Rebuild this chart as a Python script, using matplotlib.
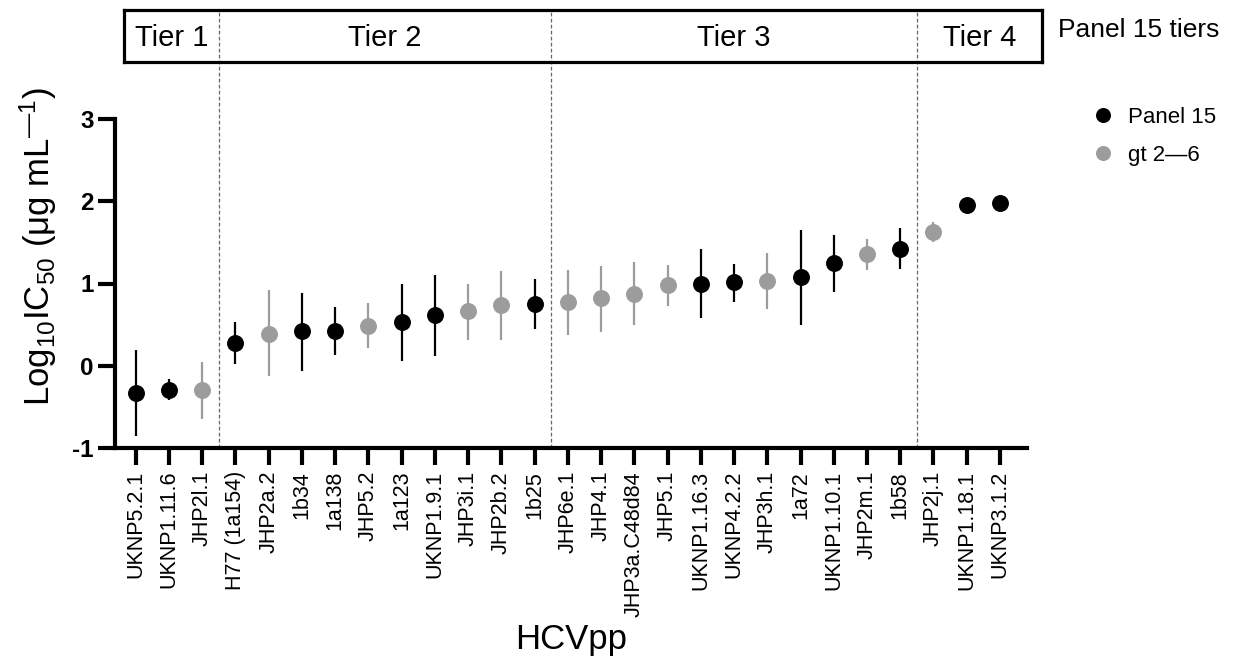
import matplotlib
matplotlib.use("Agg")
import matplotlib.pyplot as plt
from matplotlib.lines import Line2D

plt.rcParams['font.family'] = ['Liberation Sans', 'DejaVu Sans']
plt.rcParams['mathtext.fontset'] = 'custom'
plt.rcParams['mathtext.rm'] = 'Liberation Sans'
plt.rcParams['mathtext.it'] = 'Liberation Sans:italic'
plt.rcParams['mathtext.bf'] = 'Liberation Sans:bold'

# ---- data ----
categories = ['UKNP5.2.1', 'UKNP1.11.6', 'JHP2l.1', 'H77 (1a154)', 'JHP2a.2', '1b34',
              '1a138', 'JHP5.2', '1a123', 'UKNP1.9.1', 'JHP3i.1', 'JHP2b.2', '1b25',
              'JHP6e.1', 'JHP4.1', 'JHP3a.C48d84', 'JHP5.1', 'UKNP1.16.3', 'UKNP4.2.2',
              'JHP3h.1', '1a72', 'UKNP1.10.1', 'JHP2m.1', '1b58', 'JHP2j.1',
              'UKNP1.18.1', 'UKNP3.1.2']
values = [-0.33, -0.29, -0.29, 0.275, 0.39, 0.42, 0.42, 0.485, 0.53, 0.615, 0.66, 0.735,
          0.755, 0.775, 0.82, 0.875, 0.98, 1.0, 1.015, 1.03, 1.08, 1.25, 1.355, 1.425,
          1.63, 1.95, 1.98]
upper = [0.19, -0.16, 0.05, 0.53, 0.92, 0.88, 0.71, 0.76, 1.0, 1.10, 0.99, 1.15, 1.06,
         1.17, 1.21, 1.26, 1.23, 1.42, 1.24, 1.37, 1.65, 1.585, 1.54, 1.68, 1.75, 1.95, 1.98]
lower = [-0.86, -0.42, -0.65, 0.02, -0.13, -0.06, 0.13, 0.22, 0.06, 0.12, 0.315, 0.315,
         0.45, 0.375, 0.415, 0.49, 0.73, 0.585, 0.78, 0.69, 0.50, 0.90, 1.17, 1.175, 1.51,
         1.95, 1.98]
groups = ['Panel 15', 'Panel 15', 'gt 2\u20146', 'Panel 15', 'gt 2\u20146', 'Panel 15',
          'Panel 15', 'gt 2\u20146', 'Panel 15', 'Panel 15', 'gt 2\u20146', 'gt 2\u20146',
          'Panel 15', 'gt 2\u20146', 'gt 2\u20146', 'gt 2\u20146', 'gt 2\u20146', 'Panel 15',
          'Panel 15', 'gt 2\u20146', 'Panel 15', 'Panel 15', 'gt 2\u20146', 'Panel 15',
          'gt 2\u20146', 'Panel 15', 'Panel 15']
group_names = ['Panel 15', 'gt 2\u20146']
group_colors = {'Panel 15': '#000000', 'gt 2\u20146': '#9c9c9c'}

tier_names = ['Tier 1', 'Tier 2', 'Tier 3', 'Tier 4']
tier_bounds = [2.5, 12.5, 23.5]   # boundaries between tiers (category positions)
yticks = [-1, 0, 1, 2, 3]

# ---- figure ----
W, H = 1233, 663
fig = plt.figure(figsize=(W / 100, H / 100), dpi=100)

def px_axes(l, t, r, b):
    return fig.add_axes([l / W, 1 - b / H, (r - l) / W, (b - t) / H])

ax_l, ax_r, ax_t, ax_b = 115, 1027, 119, 448
ax = px_axes(ax_l, ax_t, ax_r, ax_b)
x0_px, dx_px = 135.7, 33.24           # pixel of first category and spacing
ax.set_xlim((ax_l - x0_px) / dx_px, (ax_r - x0_px) / dx_px)
ax.set_ylim(-1, 3)

for i, (v, lo, hi, g) in enumerate(zip(values, lower, upper, groups)):
    c = group_colors[g]
    ax.plot([i, i], [lo, hi], color=c, lw=1.6, solid_capstyle='butt', zorder=2)
    ax.plot(i, v, 'o', color=c, ms=12.2, mec='none', zorder=3)

for b in tier_bounds:
    ax.axvline(b, ymin=0, ymax=(ax_b - 10) / (ax_b - ax_t), color='#666666', lw=0.9,
               ls=(0, (3, 1.8)), clip_on=False, zorder=1)

for s in ['top', 'right']:
    ax.spines[s].set_visible(False)
for s in ['left', 'bottom']:
    ax.spines[s].set_linewidth(3)
ax.set_xticks(range(len(categories)))
ax.set_xticklabels(categories, rotation=90, fontsize=15.5)
ax.set_yticks(yticks)
ax.set_yticklabels([str(t) for t in yticks], fontsize=17.5, fontweight='bold')
ax.tick_params(axis='both', length=12.5, width=3, pad=4)
ax.tick_params(axis='y', pad=3)

ax.set_xlabel('HCVpp', fontsize=25, va='center')
ax.xaxis.set_label_coords(0.5, -(640 - ax_b) / (ax_b - ax_t))
ax.set_ylabel('Log$_{10}$IC$_{50}$ (\u03bcg mL$^{\u2014 1}$)', fontsize=25, va='center')
ax.yaxis.set_label_coords(-(ax_l - 38) / (ax_r - ax_l), (ax_b - 247) / (ax_b - ax_t))

handles = [Line2D([], [], ls='none', marker='o', ms=10.8, mec='none',
                  color=group_colors[g]) for g in group_names]
fig.legend(handles, group_names, loc='upper left',
           bbox_to_anchor=(1092 / W, 1 - 107 / H), bbox_transform=fig.transFigure,
           frameon=False, fontsize=16, handlelength=1.0, handletextpad=0.6,
           borderpad=0, borderaxespad=0, labelspacing=0.75)

# ---- tier box ----
bl, br, bt, bb = 124, 1042, 10, 62
tax = px_axes(bl, bt, br, bb)
tax.set_xlim((bl - x0_px) / dx_px, (br - x0_px) / dx_px)
tax.set_ylim(0, 1)
tax.set_facecolor('none')
tax.set_xticks([])
tax.set_yticks([])
for s in tax.spines.values():
    s.set_linewidth(2.3)
edges = [tax.get_xlim()[0]] + tier_bounds + [tax.get_xlim()[1]]
for name, a, b in zip(tier_names, edges[:-1], edges[1:]):
    tax.text((a + b) / 2, 0.46, name, ha='center', va='center', fontsize=21)
fig.text(1058 / W, 1 - 30 / H, 'Panel 15 tiers', ha='left', va='center', fontsize=19)

fig.savefig('out.png', dpi=100)
